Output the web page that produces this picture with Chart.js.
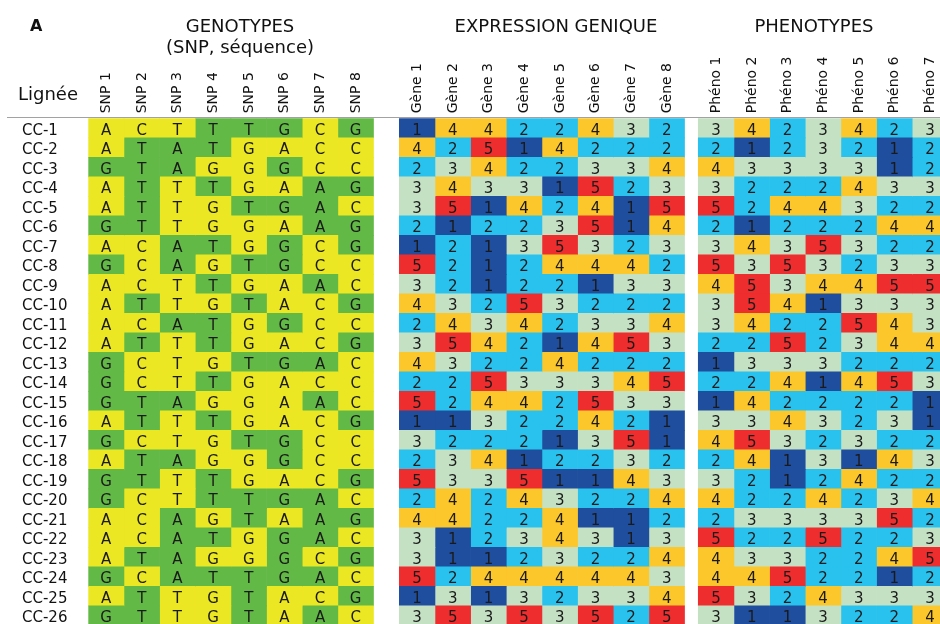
<!DOCTYPE html>
<html><head><meta charset="utf-8">
<script src="https://cdn.jsdelivr.net/npm/chart.js@4/dist/chart.umd.min.js"></script>
<style>
html,body{margin:0;padding:0;background:#fff;overflow:hidden;}
#wrap{position:relative;width:940px;height:624px;overflow:hidden;}
#c{position:absolute;left:0;top:0;}
.t{position:absolute;font-family:"DejaVu Sans";color:#111;white-space:nowrap;line-height:1;}
.ctr{transform:translateX(-50%);}
#rule{position:absolute;left:7px;top:117px;width:933px;height:1px;background:#a2a2a2;}
</style></head><body>
<div id="wrap">
<canvas id="c" width="940" height="640"></canvas>
<div class="t" style="left:30px;top:18px;font-size:16px;font-weight:bold;">A</div>
<div class="t ctr" style="left:240px;top:17px;font-size:18px;">GENOTYPES</div>
<div class="t ctr" style="left:240px;top:38px;font-size:18px;">(SNP, séquence)</div>
<div class="t ctr" style="left:556px;top:17px;font-size:18px;">EXPRESSION GENIQUE</div>
<div class="t ctr" style="left:814px;top:17px;font-size:18px;">PHENOTYPES</div>
<div class="t" style="left:18px;top:85px;font-size:18px;">Lignée</div>
<div id="rule"></div>
</div>
<script>
// ---------- data ----------
const lines = ['CC-1','CC-2','CC-3','CC-4','CC-5','CC-6','CC-7','CC-8','CC-9','CC-10','CC-11','CC-12','CC-13',
  'CC-14','CC-15','CC-16','CC-17','CC-18','CC-19','CC-20','CC-21','CC-22','CC-23','CC-24','CC-25','CC-26'];
const snpNames = ['SNP 1','SNP 2','SNP 3','SNP 4','SNP 5','SNP 6','SNP 7','SNP 8'];
const geneNames = ['Gène 1','Gène 2','Gène 3','Gène 4','Gène 5','Gène 6','Gène 7','Gène 8'];
const phenoNames = ['Phéno 1','Phéno 2','Phéno 3','Phéno 4','Phéno 5','Phéno 6','Phéno 7'];
// allele shown in green for each SNP (the other allele is shown in yellow)
const snpGreenAllele = ['G','T','A','T','T','G','A','G'];
// genotype sequence per line (one letter per SNP)
const snpSeq = ['ACTTTGCG','ATATGACC','GTAGGGCC','ATTTGAAG','ATTGTGAC','GTTGGAAG','ACATGGCG','GCAGTGCC',
  'ACTTGAAC','ATTGTACG','ACATGGCC','ATTTGACG','GCTGTGAC','GCTTGACC','GTAGGAAC','ATTTGACG','GCTGTGCC',
  'ATAGGGCC','GTTTGACG','GCTTTGAC','ACAGTAAG','ACATGGAC','ATAGGGCG','GCATTGAC','ATTGTACG','GTTGTAAC'];
// gene expression level (1-5) per line
const geneExpr = [
  [1,4,4,2,2,4,3,2],[4,2,5,1,4,2,2,2],[2,3,4,2,2,3,3,4],[3,4,3,3,1,5,2,3],[3,5,1,4,2,4,1,5],
  [2,1,2,2,3,5,1,4],[1,2,1,3,5,3,2,3],[5,2,1,2,4,4,4,2],[3,2,1,2,2,1,3,3],[4,3,2,5,3,2,2,2],
  [2,4,3,4,2,3,3,4],[3,5,4,2,1,4,5,3],[4,3,2,2,4,2,2,2],[2,2,5,3,3,3,4,5],[5,2,4,4,2,5,3,3],
  [1,1,3,2,2,4,2,1],[3,2,2,2,1,3,5,1],[2,3,4,1,2,2,3,2],[5,3,3,5,1,1,4,3],[2,4,2,4,3,2,2,4],
  [4,4,2,2,4,1,1,2],[3,1,2,3,4,3,1,3],[3,1,1,2,3,2,2,4],[5,2,4,4,4,4,4,3],[1,3,1,3,2,3,3,4],
  [3,5,3,5,3,5,2,5]];
// phenotype level (1-5) per line
const phenoVal = [
  [3,4,2,3,4,2,3],[2,1,2,3,2,1,2],[4,3,3,3,3,1,2],[3,2,2,2,4,3,3],[5,2,4,4,3,2,2],
  [2,1,2,2,2,4,4],[3,4,3,5,3,2,2],[5,3,5,3,2,3,3],[4,5,3,4,4,5,5],[3,5,4,1,3,3,3],
  [3,4,2,2,5,4,3],[2,2,5,2,3,4,4],[1,3,3,3,2,2,2],[2,2,4,1,4,5,3],[1,4,2,2,2,2,1],
  [3,3,4,3,2,3,1],[4,5,3,2,3,2,2],[2,4,1,3,1,4,3],[3,2,1,2,4,2,2],[4,2,2,4,2,3,4],
  [2,3,3,3,3,5,2],[5,2,2,5,2,2,3],[4,3,3,2,2,4,5],[4,4,5,2,2,1,2],[5,3,2,4,3,3,3],
  [3,1,1,3,2,2,4]];

// ---------- styling ----------
const SNP_YELLOW = '#ece723', SNP_GREEN = '#63b946';
const LEVEL_COLORS = {1:'#1f4e9e',2:'#29c2ee',3:'#c5e1c4',4:'#fcc72b',5:'#ed2d2e'};
const FONT = '"DejaVu Sans", Verdana, sans-serif';
// block starts in column units
const BLOCK_START = {snp:0, gene:8.724, pheno:17.11};
const X_MAX = 23.89;

const datasets = [];
const colCenters = [], colLabels = [];
snpNames.forEach((name, j) => {
  const x0 = BLOCK_START.snp + j;
  colCenters.push(x0 + 0.5); colLabels.push(name);
  datasets.push({
    data: lines.map(() => [x0, x0 + 1]),
    backgroundColor: lines.map((_, i) => snpSeq[i][j] === snpGreenAllele[j] ? SNP_GREEN : SNP_YELLOW),
    cellLabels: lines.map((_, i) => snpSeq[i][j])
  });
});
geneNames.forEach((name, j) => {
  const x0 = BLOCK_START.gene + j;
  colCenters.push(x0 + 0.5); colLabels.push(name);
  datasets.push({
    data: lines.map(() => [x0, x0 + 1]),
    backgroundColor: lines.map((_, i) => LEVEL_COLORS[geneExpr[i][j]]),
    cellLabels: lines.map((_, i) => String(geneExpr[i][j]))
  });
});
phenoNames.forEach((name, j) => {
  const x0 = BLOCK_START.pheno + j;
  colCenters.push(x0 + 0.5); colLabels.push(name);
  datasets.push({
    data: lines.map(() => [x0, x0 + 1]),
    backgroundColor: lines.map((_, i) => LEVEL_COLORS[phenoVal[i][j]]),
    cellLabels: lines.map((_, i) => String(phenoVal[i][j]))
  });
});

const cellText = {
  id: 'cellText',
  afterDatasetsDraw(chart) {
    const ctx = chart.ctx;
    ctx.save();
    ctx.font = '15px ' + FONT;
    ctx.textAlign = 'center';
    ctx.textBaseline = 'middle';
    ctx.fillStyle = '#1a1a1a';
    chart.data.datasets.forEach((ds, di) => {
      chart.getDatasetMeta(di).data.forEach((el, i) => {
        const p = el.getCenterPoint();
        ctx.fillText(ds.cellLabels[i], p.x, p.y + 3);
      });
    });
    ctx.restore();
  }
};

new Chart(document.getElementById('c'), {
  type: 'bar',
  data: { labels: lines, datasets },
  options: {
    responsive: false,
    animation: false,
    indexAxis: 'y',
    grouped: false,
    barPercentage: 1,
    categoryPercentage: 1,
    borderWidth: 0,
    layout: { padding: { left: 22, right: 0, top: 0, bottom: 14.7 } },
    plugins: { legend: { display: false }, tooltip: { enabled: false } },
    scales: {
      x: {
        type: 'linear', position: 'top', min: 0, max: X_MAX,
        grid: { display: false, drawTicks: false }, border: { display: false },
        afterBuildTicks: s => { s.ticks = colCenters.map(v => ({ value: v })); },
        afterFit: s => { s.height = 118.3; },
        ticks: {
          autoSkip: false, minRotation: 90, maxRotation: 90, padding: 5, labelOffset: 17,
          font: { family: FONT, size: 14 }, color: '#111',
          callback: (v, i) => colLabels[i]
        }
      },
      y: {
        type: 'category', offset: true,
        grid: { display: false }, border: { display: false },
        afterFit: s => { s.width = 66.3; },
        ticks: { autoSkip: false, crossAlign: 'far', padding: 0, labelOffset: 3,
          font: { family: FONT, size: 15 }, color: '#111' }
      }
    }
  },
  plugins: [cellText]
});
</script>
</body></html>
